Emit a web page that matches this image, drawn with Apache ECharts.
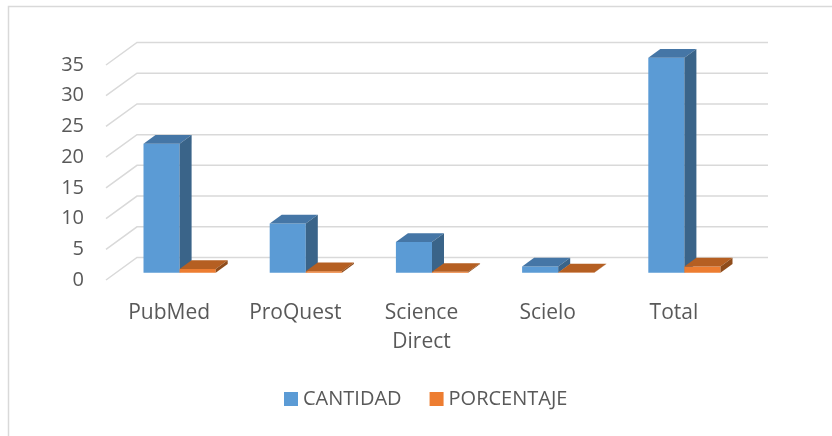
<!DOCTYPE html>
<html>
<head>
<meta charset="utf-8">
<script src="https://cdn.jsdelivr.net/npm/echarts@6/dist/echarts.min.js"></script>
<style>
  html, body { margin: 0; padding: 0; background: #fff; }
  #container { width: 832px; height: 436px; }
</style>
</head>
<body>
<div id="container"></div>
<script>
var categories = ['PubMed', 'ProQuest', 'Science\nDirect', 'Scielo', 'Total']
var cantidad = [21, 8, 5, 1, 35]
var porcentaje = [0.6, 0.23, 0.14, 0.03, 1]
var yTicks = [0, 5, 10, 15, 20, 25, 30, 35]

// oblique 3d look, like the excel chart
var FLOOR_DX = 31, FLOOR_DY = -22.5
var BAR_OX = 10.5, BAR_OY = -7.3
var BAR_DX = 12, BAR_DY = -8.7
var FONT = 'Open Sans'

var faces = [
    { front: '#5B9BD5', top: '#4576A6', side: '#3A6489' },
    { front: '#ED7D31', top: '#B55F22', side: '#8F4C1B' }
]

function barRenderer(s) {
    return function (params, api) {
        var idx = api.value(0), val = api.value(1)
        var base = api.coord([idx, 0])
        var top = api.coord([idx, val])
        var bw = api.size([1, 0])[0] * 0.286
        var x0 = base[0] + BAR_OX - bw + s * bw
        var by = base[1] + BAR_OY
        var ty = top[1] + BAR_OY
        var c = faces[s]
        return {
            type: 'group',
            children: [
                {
                    type: 'rect',
                    shape: { x: x0, y: ty, width: bw, height: by - ty },
                    style: { fill: c.front }
                },
                {
                    type: 'polygon',
                    shape: { points: [[x0, ty], [x0 + bw, ty], [x0 + bw + BAR_DX, ty + BAR_DY], [x0 + BAR_DX, ty + BAR_DY]] },
                    style: { fill: c.top }
                },
                {
                    type: 'polygon',
                    shape: { points: [[x0 + bw, ty], [x0 + bw + BAR_DX, ty + BAR_DY], [x0 + bw + BAR_DX, by + BAR_DY], [x0 + bw, by]] },
                    style: { fill: c.side }
                }
            ]
        }
    }
}

function gridRenderer(params, api) {
    var cs = params.coordSys
    var y = api.coord([0, api.value(1)])[1]
    return {
        type: 'polyline',
        shape: { points: [[cs.x, y], [cs.x + FLOOR_DX, y + FLOOR_DY], [cs.x + cs.width + FLOOR_DX, y + FLOOR_DY]] },
        style: { stroke: '#D9D9D9', lineWidth: 1.5, fill: null },
        silent: true
    }
}

var myChart = echarts.init(document.getElementById('container'))
myChart.setOption({
    animation: false,
    textStyle: { fontFamily: FONT },
    graphic: [
        {
            type: 'rect',
            shape: { x: 8.5, y: 6.5, width: 1000, height: 1000 },
            style: { fill: null, stroke: '#D9D9D9', lineWidth: 1.5 },
            silent: true
        }
    ],
    grid: { left: 106, right: 95, top: 65, bottom: 156 },
    legend: {
        left: 279,
        top: 384,
        itemWidth: 14,
        itemHeight: 14,
        itemGap: 28,
        icon: 'rect',
        textStyle: { fontFamily: FONT, fontSize: 20, color: '#595959' },
        data: ['CANTIDAD', 'PORCENTAJE']
    },
    xAxis: {
        type: 'category',
        data: categories,
        axisLine: { show: false },
        axisTick: { show: false },
        axisLabel: { margin: 19, fontFamily: FONT, fontSize: 21, color: '#595959', lineHeight: 29 }
    },
    yAxis: {
        type: 'value',
        min: 0,
        max: 35,
        interval: 5,
        axisLine: { show: false },
        axisTick: { show: false },
        splitLine: { show: false },
        axisLabel: { margin: 22, fontFamily: FONT, fontSize: 20, color: '#595959' }
    },
    series: [
        {
            type: 'custom',
            name: 'grid',
            data: yTicks.map(function (v) { return [0, v] }),
            renderItem: gridRenderer,
            z: 1,
            silent: true
        },
        {
            type: 'custom',
            name: 'CANTIDAD',
            itemStyle: { color: '#5B9BD5' },
            data: cantidad.map(function (v, i) { return [i, v] }),
            renderItem: barRenderer(0),
            z: 2
        },
        {
            type: 'custom',
            name: 'PORCENTAJE',
            itemStyle: { color: '#ED7D31' },
            data: porcentaje.map(function (v, i) { return [i, v] }),
            renderItem: barRenderer(1),
            z: 3
        }
    ]
})
</script>
</body>
</html>
